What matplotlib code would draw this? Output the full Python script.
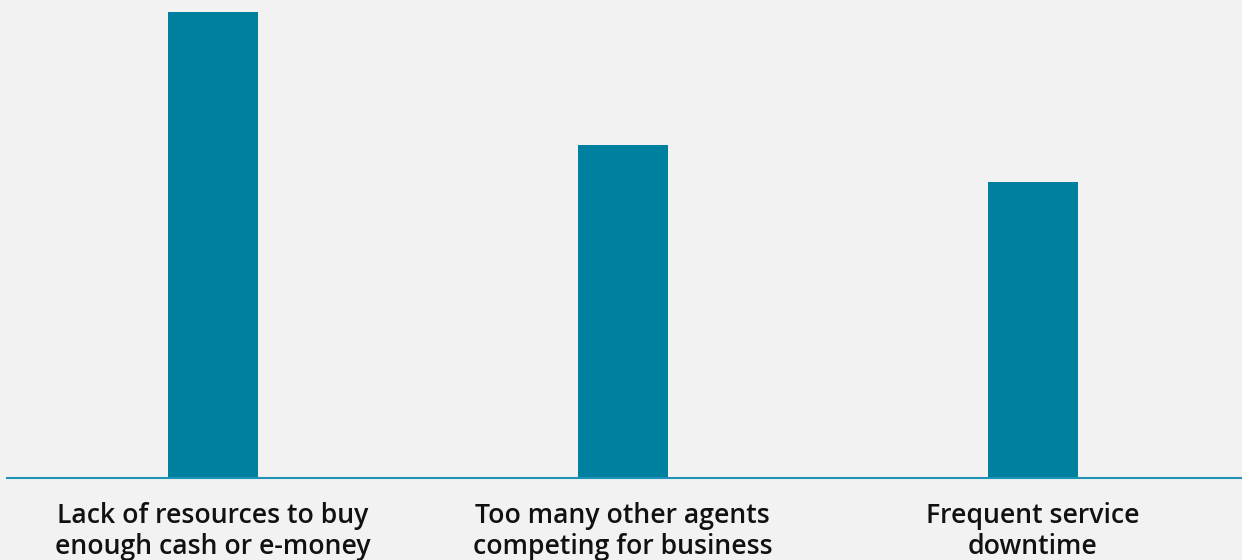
import matplotlib.pyplot as plt

categories = ["Lack of resources to buy\nenough cash or e-money",
              "Too many other agents\ncompeting for business",
              "Frequent service\ndowntime"]
values = [63, 45, 40]

BG = "#f2f2f2"
BAR = "#00809f"
LINE = "#1f93b5"

plt.rcParams['font.family'] = ['Open Sans', 'DejaVu Sans']

fig = plt.figure(figsize=(12.42, 5.6), dpi=100)
fig.patch.set_facecolor(BG)
ax = fig.add_axes([7 / 1242, (560 - 478) / 560, 1 - 7 / 1242, 478 / 560])
ax.set_facecolor(BG)

x = list(range(len(categories)))
ax.bar(x, values, width=0.22, color=BAR, zorder=2)

ax.set_xlim(-0.502, 2.51)
ax.set_ylim(0, values[0] * 478 / 466)

for s in ['top', 'right', 'left']:
    ax.spines[s].set_visible(False)
ax.spines['bottom'].set_color(LINE)
ax.spines['bottom'].set_linewidth(1.5)
ax.set_yticks([])
ax.set_xticks(x)
ax.set_xticklabels(categories, fontsize=19.2, fontweight='semibold',
                   color='#111111', linespacing=1.13)
ax.tick_params(axis='x', length=0, pad=17.5)

fig.savefig("out.png", dpi=100, facecolor=BG)
